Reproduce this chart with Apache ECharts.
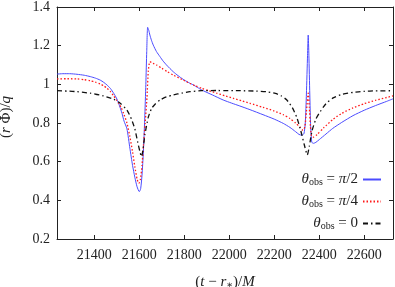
<!DOCTYPE html>
<html><head><meta charset="utf-8">
<script src="https://cdn.jsdelivr.net/npm/echarts@6/dist/echarts.min.js"></script>
<style>html,body{margin:0;padding:0;background:#fff}#c{width:395px;height:287px}</style>
</head><body><div id="c"></div>
<script>
const xTicks = [21400, 21600, 21800, 22000, 22200, 22400, 22600];
const yTicks = [0.2, 0.4, 0.6, 0.8, 1.0, 1.2, 1.4];
const seriesNames = ['π/2', 'π/4', '0'];
const halfPi = [[21234,1.053],[21260,1.055],[21290,1.055],[21323,1.052],[21355,1.047],[21382,1.04],[21405,1.032],[21426,1.022],[21442,1.01],[21456,0.997],[21472,0.978],[21486,0.954],[21498,0.93],[21508,0.902],[21523,0.85],[21532,0.81],[21545,0.77],[21558,0.67],[21570,0.58],[21580,0.52],[21590,0.47],[21600,0.445],[21606,0.46],[21612,0.53],[21618,0.65],[21624,0.82],[21629,1.0],[21633,1.17],[21637,1.295],[21642,1.28],[21647,1.255],[21654,1.228],[21662,1.203],[21676,1.17],[21692,1.143],[21706,1.12],[21721,1.1],[21736,1.082],[21751,1.065],[21772,1.045],[21795,1.026],[21818,1.01],[21840,0.997],[21860,0.983],[21877,0.971],[21925,0.945],[21973,0.919],[22010,0.903],[22047,0.888],[22092,0.869],[22150,0.843],[22200,0.82],[22240,0.798],[22270,0.777],[22295,0.755],[22310,0.741],[22322,0.737],[22332,0.745],[22338,0.8],[22343,0.95],[22348,1.15],[22351,1.255],[22354,1.15],[22358,0.95],[22362,0.78],[22367,0.7],[22375,0.695],[22385,0.7],[22400,0.714],[22430,0.743],[22460,0.772],[22500,0.803],[22550,0.838],[22600,0.866],[22650,0.89],[22700,0.912],[22728,0.925]];
const quarterPi = [[21234,1.028],[21280,1.029],[21323,1.028],[21355,1.024],[21382,1.019],[21405,1.011],[21426,1.002],[21442,0.992],[21456,0.98],[21472,0.962],[21486,0.94],[21498,0.92],[21508,0.902],[21520,0.878],[21530,0.85],[21545,0.8],[21558,0.73],[21570,0.65],[21580,0.574],[21590,0.51],[21598,0.488],[21605,0.51],[21612,0.58],[21618,0.677],[21626,0.8],[21634,0.93],[21640,1.07],[21647,1.117],[21656,1.112],[21666,1.106],[21677,1.1],[21700,1.083],[21725,1.065],[21751,1.048],[21790,1.025],[21825,1.005],[21850,0.992],[21877,0.98],[21910,0.967],[21944,0.954],[21980,0.941],[22018,0.928],[22055,0.915],[22092,0.902],[22150,0.881],[22200,0.862],[22240,0.843],[22270,0.823],[22295,0.8],[22315,0.778],[22328,0.762],[22336,0.78],[22343,0.86],[22351,0.954],[22356,0.88],[22361,0.78],[22366,0.73],[22375,0.727],[22390,0.74],[22420,0.775],[22460,0.818],[22500,0.85],[22550,0.878],[22600,0.9],[22650,0.917],[22700,0.932],[22728,0.94]];
const zeroTheta = [[21234,0.967],[21280,0.965],[21323,0.962],[21382,0.954],[21441,0.94],[21486,0.923],[21515,0.902],[21545,0.867],[21565,0.82],[21580,0.77],[21593,0.7],[21603,0.65],[21610,0.626],[21616,0.66],[21625,0.74],[21640,0.83],[21655,0.876],[21672,0.9],[21692,0.919],[21720,0.935],[21751,0.945],[21790,0.955],[21825,0.962],[21877,0.967],[21950,0.968],[22050,0.967],[22120,0.965],[22170,0.961],[22205,0.953],[22230,0.941],[22255,0.92],[22280,0.88],[22300,0.83],[22318,0.76],[22333,0.69],[22347,0.635],[22356,0.68],[22368,0.76],[22385,0.82],[22405,0.86],[22430,0.9],[22462,0.93],[22500,0.948],[22550,0.958],[22600,0.964],[22650,0.966],[22728,0.967]];

const FONT = '"Liberation Serif", "DejaVu Serif", serif';
const chart = echarts.init(document.getElementById('c'), null, {renderer: 'canvas'});
const axisCommon = {
  axisLine: {show: true, lineStyle: {color: '#222', width: 1}},
  splitLine: {show: false}
};
const sub = {fontFamily: FONT, fontSize: 10, color: '#222', verticalAlign: 'bottom', lineHeight: 9};
const ital = {fontFamily: FONT, fontSize: 15, fontStyle: 'italic', color: '#222', lineHeight: 16};
const plain = {fontFamily: FONT, fontSize: 15, color: '#222', lineHeight: 16};
chart.setOption({
  animation: false,
  textStyle: {fontFamily: FONT},
  grid: {left: 57, right: 2, top: 7, bottom: 48, containLabel: false, outerBoundsMode: 'none'},
  legend: {
    orient: 'vertical', right: 8, top: 167, align: 'right',
    itemWidth: 18, itemHeight: 14, itemGap: 6.5,
    data: seriesNames,
    itemStyle: {color: 'transparent', borderColor: 'transparent', borderWidth: 0, opacity: 0},
    formatter: n => '{i|θ}{s|obs}{p| = }' + (n === '0' ? '{p|0}' : '{i|π}{p|/' + n.slice(2) + '}'),
    textStyle: {fontFamily: FONT, fontSize: 15, color: '#222', rich: {i: ital, p: plain, s: sub}}
  },
  xAxis: [
    Object.assign({}, axisCommon, {
      type: 'value', min: 21234, max: 22728, position: 'bottom',
      axisTick: {show: true, inside: true, length: 4, customValues: xTicks, lineStyle: {color: '#222'}},
      axisLabel: {customValues: xTicks, fontFamily: FONT, fontSize: 14, color: '#222', margin: 9,
        formatter: v => String(v)},
      name: '{p|(}{i|t}{p| − }{i|r}{s|∗}{p|)/}{i|M}', nameLocation: 'middle', nameGap: 35,
      nameTextStyle: {fontFamily: FONT, rich: {i: ital, p: plain, s: sub}}
    }),
    Object.assign({}, axisCommon, {
      type: 'value', min: 21234, max: 22728, position: 'top',
      axisTick: {show: true, inside: true, length: 4, customValues: xTicks, lineStyle: {color: '#222'}},
      axisLabel: {show: false}
    })
  ],
  yAxis: [
    Object.assign({}, axisCommon, {
      type: 'value', min: 0.2, max: 1.4, position: 'left',
      axisTick: {show: true, inside: true, length: 4, customValues: yTicks, lineStyle: {color: '#222'}},
      axisLabel: {customValues: yTicks, fontFamily: FONT, fontSize: 14, color: '#222', margin: 7,
        formatter: v => (Math.abs(v - 1) < 1e-9 ? '1' : v.toFixed(1))},
      name: '{p|(}{i|r}{p| Φ)/}{i|q}', nameLocation: 'middle', nameGap: 43, nameRotate: 90,
      nameTextStyle: {fontFamily: FONT, rich: {i: ital, p: plain}, padding: [0, 0, 0, 12]}
    }),
    Object.assign({}, axisCommon, {
      type: 'value', min: 0.2, max: 1.4, position: 'right',
      axisTick: {show: true, inside: true, length: 4, customValues: yTicks, lineStyle: {color: '#222'}},
      axisLabel: {show: false}
    })
  ],
  series: [
    {name: seriesNames[0], type: 'line', data: halfPi, showSymbol: false, symbol: 'none', smooth: 0.2,
      lineStyle: {color: '#4b4bff', width: 1, type: 'solid'}, itemStyle: {color: '#4b4bff'}, z: 3},
    {name: seriesNames[1], type: 'line', data: quarterPi, showSymbol: false, symbol: 'none', smooth: 0.2,
      lineStyle: {color: '#ff1a1a', width: 1.3, type: [1.5, 2]}, itemStyle: {color: '#ff1a1a'}, z: 4},
    {name: seriesNames[2], type: 'line', data: zeroTheta, showSymbol: false, symbol: 'none', smooth: 0.2,
      lineStyle: {color: '#111', width: 1.3, type: [5, 3, 1.5, 3]}, itemStyle: {color: '#111'}, z: 5}
  ]
});
</script></body></html>
